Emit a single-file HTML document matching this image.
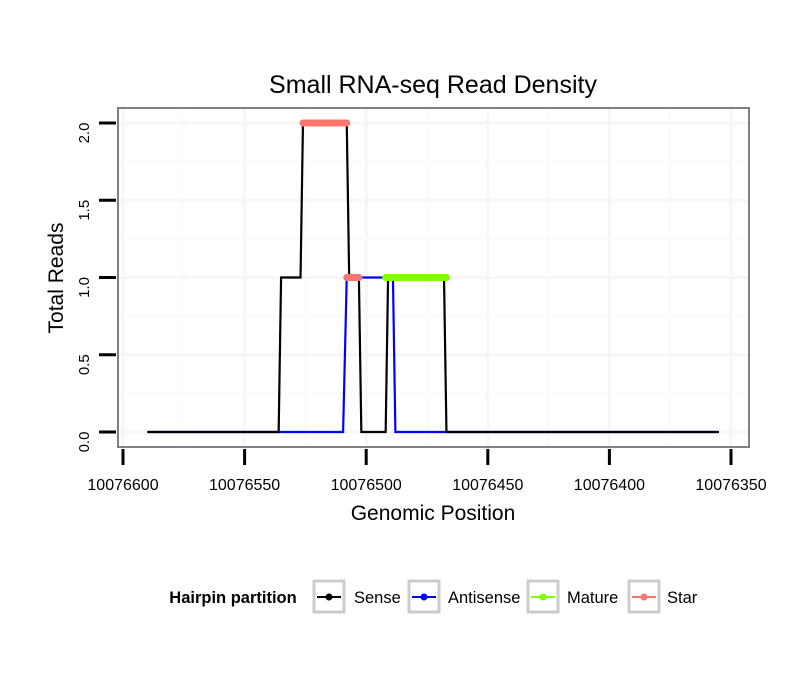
<!DOCTYPE html>
<html><head><meta charset="utf-8"><style>
body{margin:0;background:#fff;font-family:"Liberation Sans",sans-serif}
</style></head><body>
<svg id="chart" width="810" height="690" xmlns="http://www.w3.org/2000/svg" font-family="Liberation Sans, sans-serif"></svg>
<script>
const xTicks=[10076600,10076550,10076500,10076450,10076400,10076350];
const yTicks=[0,0.5,1.0,1.5,2.0];
const yTickLabels=["0.0","0.5","1.0","1.5","2.0"];
const senseX=[10076590,10076536,10076535,10076527,10076526,10076508,10076507,10076503,10076502,10076492,10076491,10076468,10076467,10076355];
const senseY=[0,0,1,1,2,2,1,1,0,0,1,1,0,0];
const antiX=[10076590,10076509.5,10076508,10076489,10076488,10076355];
const antiY=[0,0,1,1,0,0];
const starSegs=[[10076526,10076508,2],[10076508,10076503,1]];
const matureSegs=[[10076492,10076467,1]];
const legendLabels=["Sense","Antisense","Mature","Star"];
const legendColors=["#000000","#0000ff","#7fff00","#f8766d"];

const svg=document.getElementById('chart');
const NS="http://www.w3.org/2000/svg";
const X=v=>123+(10076600-v)*2.432;
const Y=v=>432-v*154.5;
function mk(tag,attrs,parent){const e=document.createElementNS(NS,tag);for(const k in attrs)e.setAttribute(k,attrs[k]);(parent||svg).appendChild(e);return e;}

const grid=mk('g',{});


for(let i=0;i<xTicks.length;i++){mk('line',{x1:X(xTicks[i]),x2:X(xTicks[i]),y1:109,y2:446,stroke:'#f6f6f6','stroke-width':3},grid);
 if(i<xTicks.length-1){const m=(xTicks[i]+xTicks[i+1])/2;mk('line',{x1:X(m),x2:X(m),y1:109,y2:446,stroke:'#fafafa','stroke-width':2},grid);}}
for(let i=0;i<yTicks.length;i++){mk('line',{x1:119,x2:748,y1:Y(yTicks[i]),y2:Y(yTicks[i]),stroke:'#f6f6f6','stroke-width':3},grid);
 if(i<yTicks.length-1){const m=(yTicks[i]+yTicks[i+1])/2;mk('line',{x1:119,x2:748,y1:Y(m),y2:Y(m),stroke:'#fafafa','stroke-width':2},grid);}}

function poly(xs,ys,color,name){const p=mk('polyline',{points:xs.map((v,i)=>X(v)+','+Y(ys[i])).join(' '),fill:'none',stroke:color,'stroke-width':2.2,'stroke-linejoin':'miter'});
 
 }
poly(antiX,antiY,'#0000ff','antisense-line');
poly(senseX,senseY,'#000000','sense-line');
starSegs.forEach(s=>{const l=mk('line',{x1:X(s[0]),x2:X(s[1]),y1:Y(s[2]),y2:Y(s[2]),stroke:'#f8766d','stroke-width':7,'stroke-linecap':'round'});
 
 });
matureSegs.forEach(s=>{const l=mk('line',{x1:X(s[0]),x2:X(s[1]),y1:Y(s[2]),y2:Y(s[2]),stroke:'#7fff00','stroke-width':7,'stroke-linecap':'round'});
 
 });

const border=mk('rect',{x:118,y:108,width:631,height:339,fill:'none',stroke:'#808080','stroke-width':2});



xTicks.forEach(v=>{mk('line',{x1:X(v),x2:X(v),y1:449,y2:465,stroke:'#000','stroke-width':3});
 const t=mk('text',{x:X(v),y:490,'font-size':16,'text-anchor':'middle'});t.textContent=v;
 
 });
yTicks.forEach((v,i)=>{mk('line',{x1:99,x2:116,y1:Y(v),y2:Y(v),stroke:'#000','stroke-width':3});
 const t=mk('text',{x:0,y:0,'font-size':15,'text-anchor':'middle',transform:`translate(89,${Y(v)+10}) rotate(-90)`});t.textContent=yTickLabels[i];
 
 });

function txt(x,y,s,size,name,extra){const t=mk('text',Object.assign({x:x,y:y,'font-size':size,'text-anchor':'middle'},extra||{}));t.textContent=s;
 
 return t;}
txt(433,93,'Small RNA-seq Read Density',25,'chart-title');
txt(433,520,'Genomic Position',21,'x-axis-title');
txt(0,0,'Total Reads',21,'y-axis-title',{transform:'translate(63,278) rotate(-90)'});

txt(233,603,'Hairpin partition',16.5,'legend-title',{'font-weight':'bold'});
const lx=[314,409,528,629],tx=[354,448,567,667];
legendLabels.forEach((lab,i)=>{const g=mk('g',{});
 
 
 mk('rect',{x:lx[i],y:581,width:30,height:31,fill:'#fff',stroke:'#cccccc','stroke-width':3},g);
 mk('line',{x1:lx[i]+3,x2:lx[i]+27,y1:597,y2:597,stroke:legendColors[i],'stroke-width':2},g);
 mk('circle',{cx:lx[i]+15,cy:597,r:3.5,fill:legendColors[i]},g);
 const t=mk('text',{x:tx[i],y:603,'font-size':16.5},g);t.textContent=lab;});
</script>
</body></html>
